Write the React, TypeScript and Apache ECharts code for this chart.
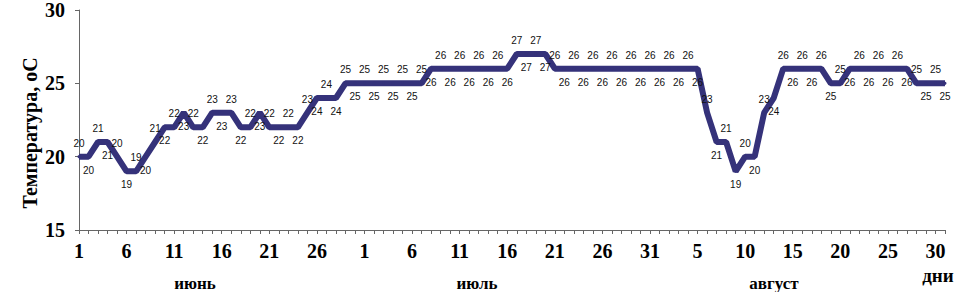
import React, { useEffect, useRef } from "react";
import * as echarts from "echarts";

const juneValues = [20, 20, 21, 21, 20, 19, 19, 20, 21, 22, 22, 23, 22, 22, 23, 23, 23, 22, 22, 23, 22, 22, 22, 22, 23, 24, 24, 24, 25, 25];
const julyValues = [25, 25, 25, 25, 25, 25, 25, 26, 26, 26, 26, 26, 26, 26, 26, 26, 27, 27, 27, 27, 26, 26, 26, 26, 26, 26, 26, 26, 26, 26, 26];
const augustValues = [26, 26, 26, 26, 26, 23, 21, 21, 19, 20, 20, 23, 24, 26, 26, 26, 26, 26, 25, 25, 26, 26, 26, 26, 26, 26, 26, 25, 25, 25, 25];
const monthLabels = ["июнь", "июль", "август"];
const yTitle = "Температура, оС";
const xUnit = "дни";

const dayLabels = (n: number) => Array.from({ length: n }, (_, i) => String(i + 1));
const categories = [...dayLabels(30), ...dayLabels(31), ...dayLabels(31)];
const values = [...juneValues, ...julyValues, ...augustValues];

export default function App() {
  const ref = useRef<HTMLDivElement>(null);
  useEffect(() => {
    if (!ref.current) return;
    const chart = echarts.init(ref.current, null, { renderer: "svg" });
    const serif = "'Liberation Serif', 'Times New Roman', serif";
    const monthStyle = { fontFamily: serif, fontWeight: "bold", fontSize: 17, fill: "#000", align: "center", verticalAlign: "middle" };
    chart.setOption({
      animation: false,
      backgroundColor: "#ffffff",
      grid: { left: 79, right: 17, top: 5, bottom: 62 },
      xAxis: {
        type: "category",
        data: categories,
        boundaryGap: false,
        axisLine: { lineStyle: { color: "#666", width: 1 } },
        axisTick: { show: true, interval: 0, length: 4, lineStyle: { color: "#666" } },
        axisLabel: {
          interval: 4,
          margin: 11,
          fontFamily: serif,
          fontWeight: "bold",
          fontSize: 20,
          color: "#000",
        },
        splitLine: { show: false },
      },
      yAxis: {
        type: "value",
        min: 15,
        max: 30,
        interval: 5,
        axisLine: { show: true, lineStyle: { color: "#666", width: 1 } },
        axisTick: { show: true, length: 4, lineStyle: { color: "#666" } },
        axisLabel: {
          margin: 14,
          fontFamily: serif,
          fontWeight: "bold",
          fontSize: 20,
          color: "#000",
        },
        splitLine: { show: false },
      },
      series: [
        {
          type: "line",
          data: values.map((v, i) => ({ value: v, label: { position: i % 2 ? "bottom" : "top" } })),
          symbol: "circle",
          symbolSize: 3,
          itemStyle: { color: "#35327a" },
          lineStyle: { color: "#35327a", width: 6 },
          label: {
            show: true,
            distance: 7,
            fontFamily: "'Liberation Sans', Arial, sans-serif",
            fontSize: 10,
            color: "#111",
          },
        },
      ],
      graphic: [
        {
          type: "text",
          x: 30,
          y: 133,
          rotation: Math.PI / 2,
          style: {
            text: yTitle,
            fontFamily: serif,
            fontWeight: "bold",
            fontSize: 20,
            fill: "#000",
            align: "center",
            verticalAlign: "middle",
          },
        },
        { type: "text", x: 195, y: 283, style: { ...monthStyle, text: monthLabels[0] } },
        { type: "text", x: 477, y: 283, style: { ...monthStyle, text: monthLabels[1] } },
        { type: "text", x: 774, y: 283, style: { ...monthStyle, text: monthLabels[2] } },
        { type: "text", x: 938, y: 275, style: { ...monthStyle, fontSize: 19, text: xUnit } },
      ],
    });
    return () => chart.dispose();
  }, []);
  return <div ref={ref} style={{ width: 962, height: 292, position: "absolute", left: 0, top: 0 }} />;
}
